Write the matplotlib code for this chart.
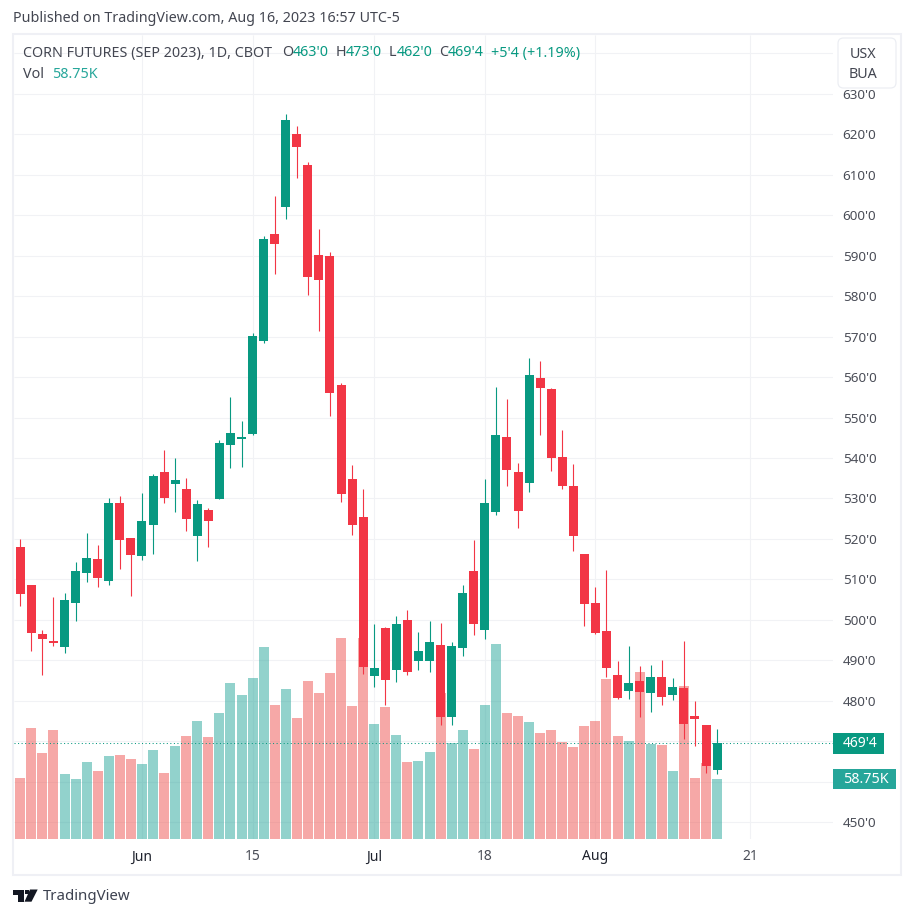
import numpy as np
import matplotlib
matplotlib.use("Agg")
import matplotlib.pyplot as plt
from matplotlib.patches import FancyBboxPatch, Polygon, Rectangle
from matplotlib.transforms import blended_transform_factory

plt.rcParams["font.family"] = ["Noto Sans", "DejaVu Sans"]

# Daily candles, first visible session is index 0
opens = [518.0, 508.6, 496.5, 494.8, 493.2, 504.2, 511.6, 515.0, 509.7, 529.0,
         520.3, 515.8, 523.5, 536.6, 533.6, 532.3, 520.8, 527.1, 529.9, 543.2,
         544.8, 545.9, 568.9, 595.4, 602.0, 620.0, 612.4, 590.2, 590.0, 558.0,
         534.8, 525.4, 486.2, 498.0, 487.6, 500.0, 489.9, 489.9, 493.8, 476.0,
         493.1, 512.1, 497.5, 526.7, 545.3, 536.6, 533.8, 559.8, 557.1, 540.2,
         533.1, 516.3, 504.2, 497.3, 486.4, 482.5, 485.0, 482.0, 485.9, 481.4,
         483.2, 476.3, 474.1, 463.0]
highs = [520.0, 508.6, 497.5, 505.6, 506.6, 514.3, 521.5, 518.5, 530.0, 530.5,
         520.3, 531.3, 536.0, 542.0, 540.0, 535.0, 529.7, 527.6, 544.5, 555.1,
         549.2, 571.0, 594.9, 604.7, 625.0, 622.0, 613.2, 596.6, 591.0, 558.5,
         538.3, 532.3, 499.0, 498.2, 500.9, 502.4, 497.0, 499.7, 499.2, 494.5,
         508.6, 519.8, 534.8, 557.5, 554.6, 538.8, 564.7, 564.0, 557.3, 547.0,
         538.6, 516.3, 508.1, 512.4, 489.9, 493.6, 488.6, 488.8, 490.1, 485.6,
         494.8, 480.0, 474.1, 473.0]
lows = [503.5, 492.4, 486.4, 493.5, 491.7, 499.7, 509.4, 508.1, 508.7, 512.6,
        506.0, 514.8, 516.4, 529.0, 526.6, 522.0, 514.5, 518.0, 529.9, 537.5,
        537.7, 545.7, 568.4, 585.5, 599.0, 609.2, 580.3, 571.4, 550.4, 529.1,
        521.0, 486.6, 483.5, 479.0, 484.7, 486.4, 487.6, 487.1, 474.1, 474.1,
        491.1, 496.3, 495.3, 526.0, 533.1, 522.8, 531.6, 545.8, 536.8, 532.4,
        516.9, 498.5, 496.5, 485.9, 480.5, 480.5, 476.0, 477.3, 479.0, 480.2,
        470.6, 468.8, 462.2, 462.0]
closes = [506.4, 496.7, 495.3, 494.3, 505.0, 512.1, 515.3, 510.3, 529.0, 519.8,
          516.1, 524.4, 535.5, 530.1, 534.6, 525.0, 528.7, 524.4, 543.8, 546.2,
          545.2, 570.1, 594.1, 592.9, 623.5, 616.9, 584.7, 584.0, 556.1, 531.1,
          523.5, 488.4, 488.2, 485.2, 499.0, 487.1, 492.3, 494.5, 476.0, 493.5,
          506.7, 499.0, 529.0, 545.8, 537.0, 527.0, 560.5, 557.3, 540.0, 533.1,
          520.8, 503.9, 496.8, 488.1, 480.7, 484.5, 482.2, 485.9, 481.0, 483.4,
          474.3, 475.6, 464.0, 469.5]
# volume in thousands, one per candle
volumes = [59.7, 108.7, 84.2, 106.7, 63.6, 58.7, 75.4, 66.6, 81.3, 82.2,
           78.3, 73.4, 87.1, 64.6, 91.0, 100.8, 115.5, 99.9, 123.4, 152.7,
           141.0, 157.6, 188.0, 131.2, 146.9, 118.5, 154.7, 142.9, 162.5, 196.8,
           130.2, 196.8, 112.6, 129.2, 101.8, 75.4, 76.4, 85.2, 142.9, 94.0,
           106.7, 88.1, 131.2, 190.9, 123.4, 120.4, 114.5, 103.8, 106.7, 95.0,
           90.1, 110.6, 115.5, 156.6, 100.8, 95.9, 163.5, 93.0, 92.0, 66.6,
           149.8, 59.7, 74.4, 58.75]
# session before the first candle, only its volume bar peeks in at the left edge
volume_before = 73.4

price_ticks = [450, 460, 470, 480, 490, 500, 510, 520, 530, 540, 550, 560, 570,
               580, 590, 600, 610, 620, 630, 640]
hidden_price_labels = [460, 470, 640]
date_ticks = [11, 21, 32, 42, 52, 66]
date_labels = ["Jun", "15", "Jul", "18", "Aug", "21"]
month_labels = ["Jun", "Jul", "Aug"]

GREEN = "#089981"
RED = "#F23645"
VOL_GREEN = "#26A69A"
VOL_RED = "#EF5350"
GRID = "#F1F2F5"
BORDER = "#EFF0F5"
TEXT = "#434651"
W, H = 913, 918


def fx(px):
    return px / W


def fy(py):
    return 1 - py / H


def put(px, py, s, color=TEXT, size=10.3, **kw):
    # text placed by pixel position of the reference picture
    kw.setdefault("ha", "left")
    kw.setdefault("va", "center")
    return fig.text(fx(px), fy(py), s, color=color, fontsize=size, **kw)


fig = plt.figure(figsize=(W / 100, H / 100), dpi=100, facecolor="white")
ax = fig.add_axes([fx(14), fy(839), (833 - 14) / W, (839 - 35) / H])
ax_vol = ax.twinx()
ax_vol.set_zorder(0)
ax.set_zorder(1)
ax.patch.set_visible(False)

idx = np.arange(len(closes))
o = np.array(opens)
h = np.array(highs)
l = np.array(lows)
c = np.array(closes)
up = c >= o
colors = [GREEN if u else RED for u in up]

ax.set_xlim(-0.57, 73.48)
ax.set_ylim(445.87, 644.5)
ax_vol.set_ylim(0, 787.3)
ax_vol.set_yticks([])

# Grid goes on the lower axes, under the see-through volume bars
price_grid = blended_transform_factory(ax_vol.transAxes, ax.transData)
ax_vol.hlines(price_ticks, 0, 1, transform=price_grid, colors=GRID, linewidth=0.8, zorder=0)
ax_vol.vlines(date_ticks, 0, 787.3, colors=GRID, linewidth=0.8, zorder=0)

# Volume first so the candles sit over it
vol_colors = [VOL_GREEN if u else VOL_RED for u in up]
ax_vol.bar(np.r_[-1, idx], [volume_before] + volumes, width=0.904,
           color=[VOL_GREEN] + vol_colors, alpha=0.5, linewidth=0, zorder=2)

# Candles
ax.vlines(idx, l, h, colors=colors, linewidth=0.8, zorder=3, snap=True)
ax.bar(idx, np.abs(c - o), bottom=np.minimum(o, c), width=0.814, color=colors,
       linewidth=0, zorder=4)

# Scales
ax.set_yticks(price_ticks)
ax.set_yticklabels(["" if p in hidden_price_labels else f"{p}'0" for p in price_ticks])
ax.yaxis.tick_right()
ax.set_xticks(date_ticks)
ax.set_xticklabels(date_labels)
ax.tick_params(axis="both", length=0)
ax.tick_params(axis="y", pad=7, labelsize=9.7, labelcolor="#4A4D57")
ax.tick_params(axis="x", pad=7.5, labelsize=10, labelcolor="#4A4D57")
for lab in ax.get_xticklabels():
    if lab.get_text() in month_labels:
        lab.set_fontweight("bold")
        lab.set_color("#1E222D")
for a in (ax, ax_vol):
    for sp in a.spines.values():
        sp.set_visible(False)

# Last price line and the two value tags on the price scale
last = closes[-1]
ax.axhline(last, color=GREEN, linewidth=0.75, linestyle=(0, (1, 2.4)), zorder=2)
ytr = ax.get_yaxis_transform()
ax.add_patch(Rectangle((1, last - 2.6), 51 / 819, 5.2, transform=ytr, clip_on=False,
                       facecolor=GREEN, linewidth=0, zorder=6))
ax.text(1 + 10 / 819, last, "469'4", transform=ytr, color="white", fontsize=10,
        va="center", ha="left", zorder=7, clip_on=False)
vol_ytr = ax_vol.get_yaxis_transform()
ax.add_patch(Rectangle((1, volumes[-1] - 10), 63 / 819, 20, transform=vol_ytr, clip_on=False,
                       facecolor=VOL_GREEN, linewidth=0, zorder=6))
ax.text(1 + 10 / 819, volumes[-1], "58.75K", transform=vol_ytr, color="white", fontsize=10.3,
        va="center", ha="left", zorder=7, clip_on=False)

# Outer frame
fig.add_artist(Rectangle((fx(13), fy(874.5)), (900.5 - 13) / W, (874.5 - 34) / H,
                         transform=fig.transFigure, fill=False, edgecolor=BORDER,
                         linewidth=1.5))

# Currency / unit button, covers the top of the 630 label
fig.add_artist(FancyBboxPatch((fx(838), fy(88)), 58 / W, 50 / H,
                              boxstyle="round,pad=0,rounding_size=0.006",
                              transform=fig.transFigure, facecolor="white",
                              edgecolor="#ECEEF3", linewidth=0.9, zorder=5))
put(863, 55, "USX", ha="center", zorder=6)
put(863, 74, "BUA", ha="center", zorder=6)

# Header and legend
put(13, 19, "Published on TradingView.com, Aug 16, 2023 16:57 UTC-5")
put(23, 53, "CORN FUTURES (SEP 2023), 1D, CBOT")
put(282, 53, "O")
put(293, 53, "463'0", color=GREEN)
put(336, 53, "H")
put(346, 53, "473'0", color=GREEN)
put(389, 53, "L")
put(397, 53, "462'0", color=GREEN)
put(439, 53, "C")
put(448, 53, "469'4", color=GREEN)
put(491, 53, "+5'4 (+1.19%)", color=GREEN)
put(23, 74.5, "Vol")
put(52, 74.5, "58.75K", color=VOL_GREEN)

# TradingView logo
dark = "#131722"
fig.add_artist(Polygon([(fx(13), fy(889.5)), (fx(24), fy(889.5)), (fx(24), fy(901.7)),
                        (fx(18), fy(901.7)), (fx(18), fy(894.5)), (fx(13), fy(894.5))],
                       transform=fig.transFigure, facecolor=dark, linewidth=0))
fig.add_artist(Polygon([(fx(30), fy(889.5)), (fx(37.7), fy(889.5)), (fx(31.5), fy(901.7)),
                        (fx(24.5), fy(901.7))],
                       transform=fig.transFigure, facecolor=dark, linewidth=0))
fig.add_artist(Rectangle((fx(25), fy(894)), 4 / W, 4 / H, transform=fig.transFigure,
                         facecolor=dark, linewidth=0))
put(43, 896, "TradingView", color="#3D4250", size=10.8)

fig.savefig("out.png", dpi=100)
